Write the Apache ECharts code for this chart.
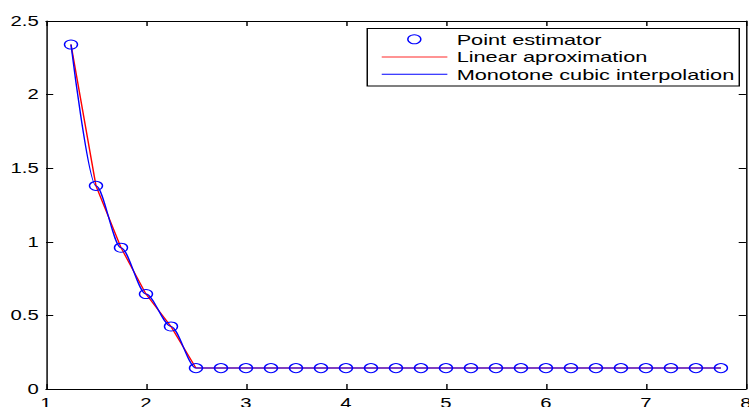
<!DOCTYPE html>
<html>
<head>
<meta charset="utf-8">
<script src="https://cdn.jsdelivr.net/npm/echarts@6/dist/echarts.min.js"></script>
<style>
  html, body { margin: 0; padding: 0; background: #fff; overflow: hidden; }
  #wrap { width: 749px; height: 407px; overflow: hidden; }
  /* the figure is drawn at a narrower width and stretched horizontally */
  #chart { width: 517px; height: 407px; transform: scaleX(1.4487); transform-origin: 0 0; }
</style>
</head>
<body>
<div id="wrap"><div id="chart"></div></div>
<script>
const xValues = [1.25, 1.5, 1.75, 2.0, 2.25, 2.5, 2.75, 3.0, 3.25, 3.5, 3.75, 4.0, 4.25, 4.5,
                 4.75, 5.0, 5.25, 5.5, 5.75, 6.0, 6.25, 6.5, 6.75, 7.0, 7.25, 7.5, 7.75];
const estimates = [2.34, 1.38, 0.96, 0.645, 0.425, 0.142, 0.142, 0.142, 0.142, 0.142, 0.142,
                   0.142, 0.142, 0.142, 0.142, 0.142, 0.142, 0.142, 0.142, 0.142, 0.142,
                   0.142, 0.142, 0.142, 0.142, 0.142, 0.142];
const seriesNames = ['Point estimator', 'Linear aproximation', 'Monotone cubic interpolation'];

const points = xValues.map((x, i) => [x, estimates[i]]);

const FONT = '"Liberation Sans", Arial, Helvetica, sans-serif';
const BLUE = '#0000ff';
const RED = '#ff0000';

const chart = echarts.init(document.getElementById('chart'), null, { renderer: 'svg' });

const axisCommon = {
  axisLine: { show: true, onZero: false, lineStyle: { color: '#000', width: 1 } },
  axisTick: { show: true, inside: true, length: 5, lineStyle: { color: '#000' } },
  splitLine: { show: false }
};

chart.setOption({
  animation: false,
  backgroundColor: '#fff',
  grid: { left: 31.75, right: 2.1, top: 21, bottom: 18, outerBoundsMode: 'none', containLabel: false },
  xAxis: [
    Object.assign({ type: 'value', min: 1, max: 8, interval: 1, position: 'bottom',
      axisLabel: { color: '#000', fontFamily: FONT, fontSize: 14, margin: 7 } }, axisCommon),
    Object.assign({ type: 'value', min: 1, max: 8, interval: 1, position: 'top',
      axisLabel: { show: false } }, axisCommon)
  ],
  yAxis: [
    Object.assign({ type: 'value', min: 0, max: 2.5, interval: 0.5, position: 'left',
      axisLabel: { color: '#000', fontFamily: FONT, fontSize: 14, margin: 5 } }, axisCommon),
    Object.assign({ type: 'value', min: 0, max: 2.5, interval: 0.5, position: 'right',
      axisLabel: { show: false } }, axisCommon)
  ],
  series: [
    {
      name: seriesNames[1], type: 'line', data: points, showSymbol: false, symbol: 'none',
      lineStyle: { color: RED, width: 1 }, z: 2
    },
    {
      name: seriesNames[2], type: 'line', data: points, showSymbol: false, symbol: 'none',
      smooth: 0.3, smoothMonotone: 'x',
      lineStyle: { color: BLUE, width: 1 }, z: 3
    },
    {
      name: seriesNames[0], type: 'scatter', data: points, symbol: 'circle', symbolSize: 9,
      itemStyle: { color: 'rgba(255,255,255,0)', borderColor: BLUE, borderWidth: 1, opacity: 1 }, z: 4
    }
  ],
  graphic: [
    { type: 'rect', shape: { x: 253.5, y: 28.5, width: 256.8, height: 57.5 },
      style: { fill: '#fff', stroke: '#000', lineWidth: 1 }, z: 10 },
    { type: 'circle', shape: { cx: 286, cy: 39.3, r: 4.5 },
      style: { fill: 'none', stroke: BLUE, lineWidth: 1 }, z: 11 },
    { type: 'rect', shape: { x: 263.5, y: 56.3, width: 45.3, height: 1.4 },
      style: { fill: '#ff6f6f', stroke: null }, z: 11 },
    { type: 'rect', shape: { x: 263.5, y: 73.8, width: 45.3, height: 1 },
      style: { fill: BLUE, stroke: null }, z: 11 },
    { type: 'text', x: 315.2, y: 39.3, z: 11,
      style: { text: seriesNames[0], font: '15px ' + FONT, fill: '#000', verticalAlign: 'middle' } },
    { type: 'text', x: 315.2, y: 57, z: 11,
      style: { text: seriesNames[1], font: '15px ' + FONT, fill: '#000', verticalAlign: 'middle' } },
    { type: 'text', x: 315.2, y: 74.3, z: 11,
      style: { text: seriesNames[2], font: '15px ' + FONT, fill: '#000', verticalAlign: 'middle' } }
  ]
});
</script>
</body>
</html>
